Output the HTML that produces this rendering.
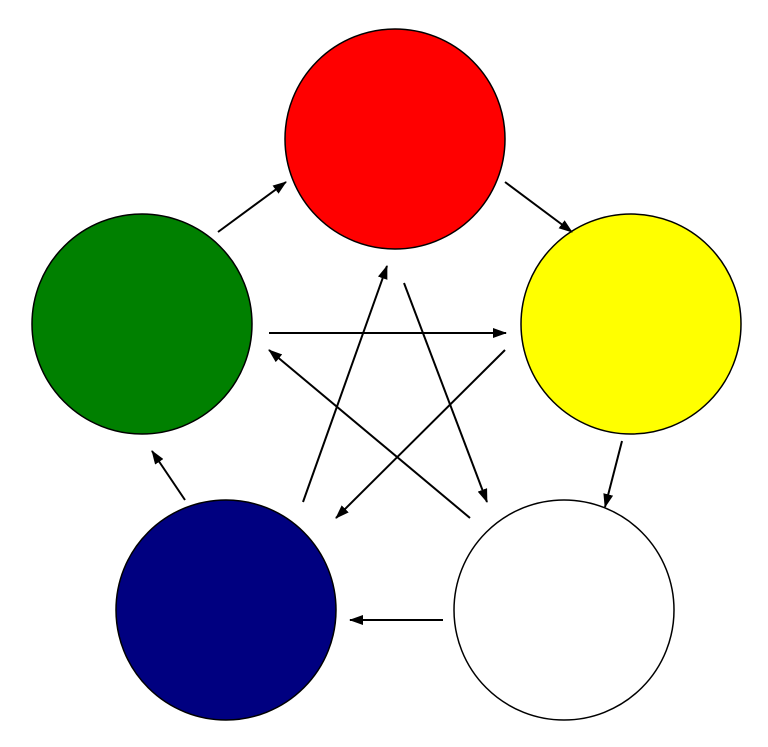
<!DOCTYPE html>
<html><head><style>html,body{margin:0;padding:0;background:#fff;}svg{display:block}</style></head>
<body>
<svg width="768" height="747" viewBox="0 0 768 747" xmlns="http://www.w3.org/2000/svg">
<defs><marker id="a" markerWidth="14" markerHeight="10" refX="13" refY="5" orient="auto" markerUnits="userSpaceOnUse"><path d="M0,0 L14,5 L0,10 Z" fill="#000"/></marker></defs>
<g stroke="#000" stroke-width="1.5">
<circle cx="395" cy="139" r="110" fill="#ff0000"/>
<circle cx="631" cy="324" r="110" fill="#ffff00"/>
<circle cx="564" cy="610" r="110" fill="#ffffff"/>
<circle cx="226" cy="610" r="110" fill="#000080"/>
<circle cx="142" cy="324" r="110" fill="#008000"/>
</g>
<g stroke="#000" stroke-width="2" marker-end="url(#a)">
<line x1="218" y1="232" x2="286" y2="182"/>
<line x1="505" y1="182" x2="572" y2="232"/>
<line x1="622" y1="441" x2="605" y2="507"/>
<line x1="443" y1="620" x2="350" y2="620"/>
<line x1="185" y1="500" x2="152" y2="451"/>
<line x1="269" y1="333" x2="506" y2="333"/>
<line x1="505" y1="350" x2="336" y2="518"/>
<line x1="470" y1="518" x2="269" y2="350"/>
<line x1="303" y1="502" x2="387" y2="266"/>
<line x1="404" y1="283" x2="487" y2="502"/>
</g>
</svg>
</body></html>
